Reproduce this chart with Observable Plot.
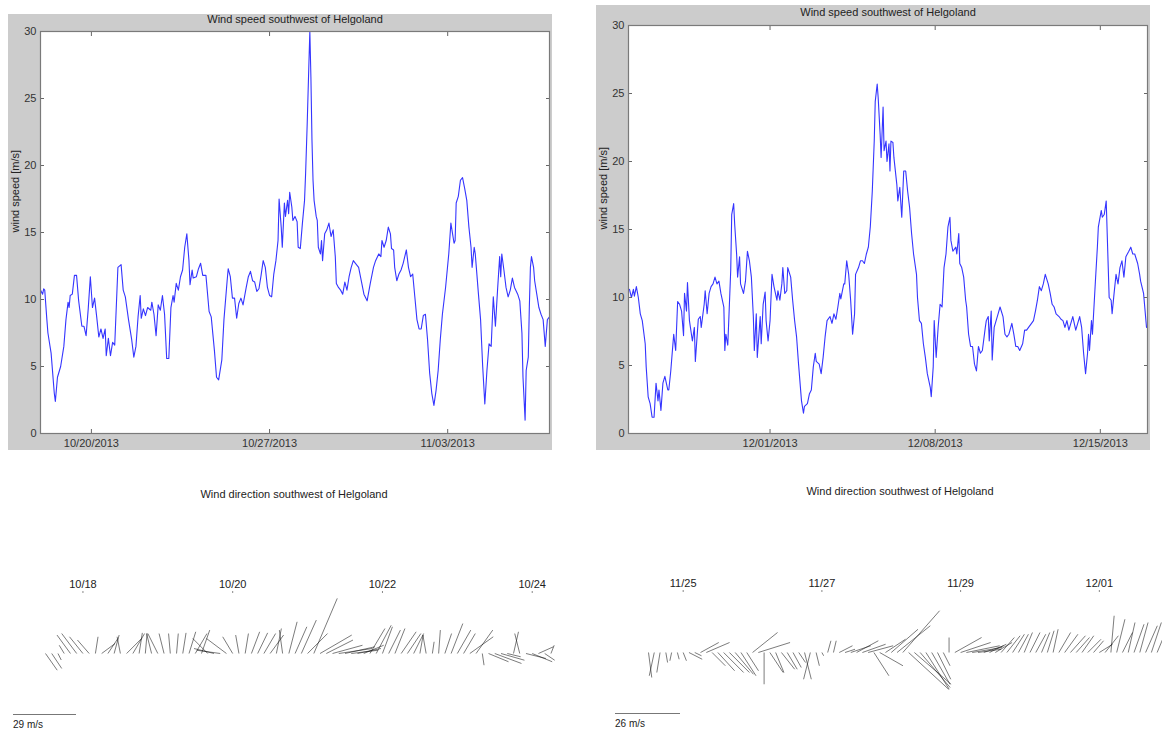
<!DOCTYPE html>
<html><head><meta charset="utf-8">
<script src="https://cdn.jsdelivr.net/npm/d3@7"></script>
<script src="https://cdn.jsdelivr.net/npm/@observablehq/plot@0.6"></script>
<style>
html,body{margin:0;padding:0;background:#fff;}
body{width:1162px;height:730px;overflow:hidden;position:relative;font-family:"Liberation Sans",Arial,sans-serif;}
.panel{position:absolute;}
.ttl{position:absolute;font-size:11px;color:#222;white-space:nowrap;transform:translateX(-50%);line-height:13px;}
.bar{position:absolute;border-top:1px solid #777;height:0;}
.barlbl{position:absolute;font-size:10px;color:#222;line-height:12px;}
</style></head><body>
<script>
// ---------- wind speed, Oct/Nov 2013 (hours since 2013-10-18 00:00 UTC, m/s) ----------
const octStart = "2013-10-18T00:00Z";
const octEnd = "2013-11-07T00:00Z";
const octReadings = [
[0,10.7],[2,10.4],[3,10.8],[4,10.7],[6,8.5],[7,7.5],[10,6.0],[13,3.0],[14,2.4],[16,4.2],[19,5.0],[22,6.5],
[24,8.5],[26,9.8],[27,9.4],[28,10.3],[30,10.4],[32,11.8],[34,11.8],[36,9.9],[39,8.0],[41,8.0],[43,7.3],[45,9.3],
[47,11.7],[49,9.4],[51,10.1],[53,8.7],[55,7.2],[57,7.8],[59,7.1],[61,7.8],[62,5.8],[64,7.1],[66,5.8],[68,6.8],
[70,6.6],[73,12.4],[76,12.6],[78,10.7],[80,10.2],[83,8.5],[86,7.0],[88,5.7],[90,6.5],[92,8.7],[94,10.3],[95,8.6],
[97,9.3],[99,8.8],[101,9.4],[104,9.2],[105,9.8],[107,8.9],[109,7.3],[111,9.6],[113,9.2],[115,10.3],[117,8.9],[119,5.6],
[121,5.6],[123,9.4],[125,10.3],[126,9.8],[128,11.2],[130,10.7],[132,11.7],[134,12.2],[136,13.9],[138,14.9],[140,12.9],[141,11.1],
[143,12.2],[144,11.6],[147,11.7],[149,12.3],[151,12.7],[153,11.8],[156,11.8],[159,9.1],[161,8.7],[164,6.2],[166,4.2],[168,4.0],
[171,5.5],[173,8.5],[176,11.4],[177,12.3],[179,11.7],[181,10.1],[183,10.1],[185,8.6],[187,9.7],[189,10.1],[191,9.6],[194,10.9],
[196,11.7],[198,12.1],[200,11.4],[202,11.3],[204,10.6],[206,10.8],[208,11.8],[210,12.9],[212,12.4],[214,10.9],[216,10.3],[218,10.2],
[220,11.9],[222,12.9],[224,14.4],[225,17.5],[227,15.4],[228,13.9],[230,17.2],[231,16.2],[233,17.4],[234,16.4],[235,18.0],[237,16.9],
[238,15.9],[240,16.2],[242,15.8],[243,13.9],[245,13.8],[247,15.7],[249,17.4],[250,19.4],[251.5,23.1],[253,27.3],[254,30.0],[255,26.6],
[256,21.9],[257,18.9],[258,17.4],[260,16.2],[261,15.9],[262,13.9],[264,13.4],[265,14.4],[266,12.9],[268,14.9],[270,15.2],[272,15.7],
[274,14.7],[276,15.2],[278,13.2],[279,11.2],[281,10.9],[283,10.7],[285,10.4],[287,11.3],[289,10.7],[291,11.7],[293,12.4],[295,12.9],
[297,12.7],[300,12.4],[303,11.2],[305,10.4],[308,9.9],[311,11.2],[314,12.4],[316,12.9],[319,13.4],[321,13.2],[322,14.4],[324,13.9],
[326,14.4],[328,15.4],[330,14.9],[331,13.8],[333,13.7],[334,12.4],[336,11.4],[338,11.9],[340,12.2],[342,12.7],[345,13.7],[347,12.4],
[349,11.7],[351,11.9],[353,10.2],[355,8.5],[357,7.8],[359,7.8],[361,8.8],[363,8.9],[365,7.0],[367,4.5],[369,3.0],[371,2.1],
[373,3.2],[375,4.7],[377,7.0],[379,8.9],[382,10.9],[385,13.4],[387,15.7],[388,15.2],[390,14.2],[391,14.4],[392,17.2],[394,17.7],
[396,18.9],[398,19.1],[400,18.3],[402,17.4],[404,15.4],[406,13.9],[407,12.4],[409,13.9],[410,13.4],[411,12.4],[413,10.4],[415,8.5],
[417,5.0],[419,2.2],[421,4.7],[423,6.7],[425,6.5],[427,10.2],[429,8.0],[431,10.7],[433,13.2],[434,11.7],[435,13.4],[437,12.2],
[439,10.9],[441,10.2],[443,10.7],[445,11.6],[447,10.9],[450,10.4],[452,9.9],[454,7.5],[455,4.2],[457,1.0],[458,4.7],[460,5.7],
[461,9.5],[462,12.4],[463,13.2],[465,12.4],[466,11.4],[468,10.4],[470,9.4],[472,8.9],[474,8.5],[476,6.5],[478,8.5],[480,8.7]
];
const octTicks = ["2013-10-20","2013-10-27","2013-11-03"];

// ---------- wind speed, Nov/Dec 2013 (hours since 2013-11-25 00:00 UTC, m/s) ----------
const novStart = "2013-11-25T00:00Z";
const novEnd = "2013-12-17T00:00Z";
const novReadings = [
[1,10.6],[3,10.0],[5,10.6],[6,10.1],[8,10.8],[10,10.0],[12,8.8],[14,8.3],[17,6.6],[18,4.9],[20,2.7],[22,2.2],
[24,1.2],[26,1.2],[28,3.7],[30,2.4],[31,3.2],[33,1.7],[35,3.7],[37,4.2],[40,3.2],[41,3.2],[43,4.6],[46,7.3],
[48,6.1],[50,9.7],[52,9.5],[54,9.0],[56,7.2],[57,10.3],[59,9.0],[60,11.1],[62,8.3],[65,6.8],[67,7.8],[68,5.3],
[71,8.4],[73,8.6],[74,7.8],[77,9.5],[78,10.5],[80,8.8],[82,10.3],[84,10.8],[86,11.0],[88,11.5],[90,11.0],[92,11.2],
[94,10.3],[97,9.3],[98,6.1],[99,7.3],[101,6.5],[102,8.3],[104,12.0],[105,16.1],[107,16.9],[108,15.4],[110,13.2],[111,11.5],
[113,13.0],[114,11.0],[117,10.3],[119,11.2],[121,13.4],[123,12.7],[125,11.5],[127,8.6],[128,6.1],[130,8.8],[131,5.6],[134,8.6],
[135,6.6],[137,9.5],[139,10.4],[140,8.3],[142,6.8],[144,8.3],[146,11.7],[148,10.8],[151,9.8],[152,10.5],[154,9.8],[156,11.0],
[157,12.2],[159,10.3],[161,10.5],[162,12.2],[165,11.5],[167,9.8],[169,8.3],[171,7.1],[173,5.1],[176,2.4],[178,1.5],[179,2.0],
[182,2.2],[184,2.9],[186,3.2],[188,4.9],[190,5.9],[191,5.3],[194,5.1],[196,4.4],[198,5.6],[200,7.1],[202,8.3],[205,8.6],
[207,8.1],[209,8.8],[211,8.4],[213,9.3],[215,10.3],[216,9.9],[219,11.0],[220,11.0],[222,12.7],[224,11.7],[226,9.8],[228,7.3],
[230,8.8],[231,11.7],[234,12.2],[236,12.7],[238,12.7],[240,12.5],[242,13.2],[244,13.7],[246,15.2],[248,17.8],[250,21.5],[251,24.4],
[253,25.7],[254,24.7],[256,22.0],[257,20.3],[259,24.0],[260,20.8],[262,21.5],[263,20.0],[265,21.3],[266,19.3],[267,21.5],[269,21.4],
[270,20.3],[273,18.3],[274,17.1],[276,18.1],[278,15.9],[280,19.3],[282,19.3],[284,17.8],[286,16.6],[288,14.7],[290,13.2],[293,11.7],
[294,10.0],[296,8.3],[298,8.1],[300,6.6],[302,5.6],[304,4.4],[307,3.4],[308,2.7],[310,4.9],[311,8.3],[313,5.6],[315,7.8],
[317,9.5],[319,9.3],[321,12.2],[323,13.2],[325,15.2],[327,15.9],[328,14.2],[330,13.4],[333,13.7],[334,13.2],[336,14.7],[337,12.5],
[339,12.2],[341,11.5],[343,9.8],[344,9.3],[346,7.3],[348,6.4],[350,6.4],[352,5.1],[354,4.6],[356,6.4],[358,5.9],[360,6.1],
[363,7.8],[364,8.3],[366,8.6],[367,6.8],[369,9.0],[370,5.4],[372,7.8],[374,8.3],[376,8.8],[378,9.3],[381,8.6],[383,7.3],
[385,7.1],[387,7.3],[390,8.1],[392,7.3],[394,6.4],[396,6.4],[398,6.1],[401,6.6],[403,7.6],[405,7.6],[407,7.8],[410,8.1],
[412,8.3],[414,9.0],[416,9.8],[418,10.8],[420,10.5],[422,11.0],[424,11.7],[427,11.0],[429,10.3],[431,9.5],[433,9.3],[435,8.8],
[438,8.6],[440,8.4],[442,8.3],[444,7.8],[446,8.3],[448,7.6],[450,8.1],[452,8.6],[455,7.6],[457,8.1],[459,8.6],[461,7.8],
[463,5.9],[465,4.4],[467,5.9],[468,7.3],[469,6.1],[471,8.3],[472,7.3],[475,11.2],[477,13.7],[478,15.2],[481,16.4],[482,15.9],
[484,16.1],[486,17.1],[487,14.7],[489,10.0],[491,9.8],[492,8.8],[494,10.3],[496,11.7],[498,11.0],[500,12.2],[502,12.7],[504,11.5],
[506,13.0],[509,13.4],[511,13.7],[513,13.2],[515,13.2],[518,12.5],[520,11.7],[521,11.2],[524,10.3],[527,7.8]
];
const novTicks = ["2013-12-01","2013-12-08","2013-12-15"];
const speedTicks = [0, 5, 10, 15, 20, 25, 30];

// ---------- wind vectors (2-hourly, east/north components in m/s) ----------
const stickOctStart = "2013-10-17T12:00Z";
const stickOctU = [5.4,4.6,1.5,-2.3,-6.2,-6.9,-6.2,-5.4,1.2,6.2,4.6,2.3,-1.5,6.9,5.4,1.5,0.8,-2.3,-4.6,-2.3,
 -0.8,0.8,1.5,3.1,5.4,3.8,-6.9,-9.2,-10.8,-9.2,-4.6,-1.5,1.5,3.8,4.6,5.4,6.2,2.3,-1.5,3.8,
 5.4,6.9,9.2,10.8,14.6,12.3,13.8,15.4,13.8,12.3,10.8,9.2,6.9,6.9,4.6,5.4,4.6,6.9,6.2,4.6,
 1.5,-1.5,0.8,0.8,3.1,5.4,6.2,5.4,10.8,7.7,0.8,9.2,12.3,10.8,6.2,2.3,-2.3,9.2,9.2,6.9,4.6,1.5];
const stickOctV = [-7.7,-6.9,-3.0,3.8,8.5,9.2,7.7,6.2,7.7,4.6,6.9,8.5,7.7,6.9,9.2,9.5,9.2,9.2,9.2,9.2,
 9.2,9.2,9.5,10.0,9.2,10.8,6.9,2.3,1.5,6.9,7.7,8.5,9.2,10.0,9.5,9.2,8.5,11.5,10.8,14.6,
 12.3,15.4,9.2,25.4,8.5,6.2,3.8,2.3,3.1,1.5,2.3,3.8,11.5,13.0,12.3,10.8,11.5,10.0,9.2,9.2,
 8.5,8.5,5.4,10.8,9.2,13.8,10.8,9.2,7.7,10.8,-5.4,-3.8,-4.6,-3.1,-1.5,10.0,9.2,-2.3,-3.8,3.1,-3.1,3.8];
const stickOctTicks = ["2013-10-18","2013-10-20","2013-10-22","2013-10-24"];
const stickOctRef = 29;

const stickNovStart = "2013-11-24T12:00Z";
const stickNovU = [1.3,-2.0,-1.3,0.7,-0.7,0.7,1.3,5.3,2.7,7.3,9.3,5.3,6.7,8.0,8.0,7.3,6.0,4.7,10.0,12.7,
 0.0,5.3,3.3,5.3,4.0,3.3,2.7,2.7,-2.7,1.3,0.7,1.3,1.1,5.3,4.0,8.0,8.7,9.3,10.0,6.0,
 9.3,8.0,10.7,13.3,14.7,16.0,14.7,12.0,9.3,7.3,5.3,2.7,0.0,10.7,12.0,13.3,12.0,9.3,8.0,6.7,
 6.7,5.3,5.3,4.7,4.0,3.3,4.0,4.0,3.3,2.7,2.0,4.7,5.3,6.0,5.3,4.7,5.3,4.0,5.3,5.3,
 1.3,3.3,4.0,2.7,4.0,3.3,4.7,4.0,4.7,4.0];
const stickNovV = [-10.0,-9.3,-8.0,-4.0,-3.3,-2.7,-3.3,-2.7,-1.3,4.0,4.0,-5.3,-7.3,-8.0,-8.0,-8.7,-9.3,-7.3,8.0,4.0,
 -12.7,-8.0,-8.0,-6.7,-6.7,-6.0,-4.0,-10.7,-10.7,-5.3,-1.3,4.7,4.7,2.7,1.3,2.7,4.7,3.3,2.7,-9.3,
 -5.3,5.3,9.3,10.7,16.7,-14.7,-12.7,-14.0,-14.7,-12.7,-10.7,-5.3,6.0,6.0,4.0,2.7,2.0,1.3,2.7,3.3,
 4.0,6.0,6.7,7.3,7.3,8.0,8.0,7.3,8.0,8.7,9.3,8.0,7.3,6.7,6.0,6.7,5.3,4.7,3.3,6.7,
 14.7,13.3,8.0,12.0,11.3,12.0,10.7,12.0,11.3,10.7];
const stickNovTicks = ["2013-11-25","2013-11-27","2013-11-29","2013-12-01"];
const stickNovRef = 26;

const TITLE_SPEED = "Wind speed southwest of Helgoland";
const TITLE_DIR = "Wind direction southwest of Helgoland";
const FONT = "'Liberation Sans', Arial, sans-serif";

function place(node, left, top) {
  const d = document.createElement("div");
  d.className = "panel";
  d.style.left = left + "px"; d.style.top = top + "px";
  d.appendChild(node);
  document.body.appendChild(d);
}
function html(cls, text, left, top, extra) {
  const d = document.createElement("div");
  d.className = cls; d.textContent = text;
  d.style.left = left + "px"; d.style.top = top + "px";
  if (extra) Object.assign(d.style, extra);
  document.body.appendChild(d);
}

function speedPanel({left, top, width, height, marginTop, start, end, readings, ticks, titleDy}) {
  const t0 = new Date(start).getTime();
  const data = readings.map(([h, v]) => ({t: new Date(t0 + h * 3600e3), v}));
  const tickDates = ticks.map(s => new Date(s + "T00:00Z"));
  const blank = () => "";
  const svg = Plot.plot({
    width, height, marginLeft: 32, marginRight: 3, marginTop, marginBottom: 17,
    style: {background: "#cccccc", fontFamily: FONT, fontSize: "11px", color: "#333", overflow: "visible"},
    x: {type: "utc", domain: [new Date(start), new Date(end)]},
    y: {domain: [0, 30]},
    marks: [
      Plot.frame({fill: "white", stroke: "none"}),
      Plot.line(data, {x: "t", y: "v", stroke: "#3535ff", strokeWidth: 1.1}),
      Plot.axisY({ticks: speedTicks, tickSize: 0, tickPadding: 4, label: null, fill: "#333"}),
      Plot.axisY({ticks: speedTicks, anchor: "left", tickSize: -4, tickFormat: blank, label: null, stroke: "#666"}),
      Plot.axisY({ticks: speedTicks, anchor: "right", tickSize: -4, tickFormat: blank, label: null, stroke: "#666"}),
      Plot.axisX({ticks: tickDates, tickSize: 0, tickPadding: 6, tickFormat: d3.utcFormat("%m/%d/%Y"), label: null, fill: "#333"}),
      Plot.axisX({ticks: tickDates, anchor: "bottom", tickSize: -4, tickFormat: blank, label: null, stroke: "#666"}),
      Plot.axisX({ticks: tickDates, anchor: "top", tickSize: -4, tickFormat: blank, label: null, stroke: "#666"}),
      Plot.frame({stroke: "#7a7a7a", strokeWidth: 1.2}),
      Plot.text([TITLE_SPEED], {text: d => d, frameAnchor: "top", dy: titleDy, lineAnchor: "middle", fill: "#222", fontSize: 11}),
      Plot.text(["wind speed [m/s]"], {text: d => d, frameAnchor: "left", dx: -25, rotate: -90, lineAnchor: "middle", fill: "#222", fontSize: 11})
    ]
  });
  place(svg, left, top);
}

function stickPanel({left, top, width, height, x0, pxPerHour, hoursSpan, pxPerUnit, baseY, axisY, start, u, v, ticks, ref, barLeft, barTop, title, titleX, titleY}) {
  const t0 = new Date(start).getTime();
  const hoursPerUnit = pxPerUnit / pxPerHour; // keeps sticks isotropic
  const sticks = u.map((uu, i) => ({
    t: new Date(t0 + i * 2 * 3600e3),
    t2: new Date(t0 + (i * 2 + uu * hoursPerUnit) * 3600e3),
    y0: 0,
    v: v[i]
  }));
  const tickDates = ticks.map(s => new Date(s + "T00:00Z"));
  const svg = Plot.plot({
    width, height,
    marginLeft: x0, marginRight: width - (x0 + pxPerHour * hoursSpan),
    marginTop: axisY, marginBottom: 0,
    style: {background: "transparent", fontFamily: FONT, fontSize: "11px", color: "#222", overflow: "visible"},
    x: {type: "utc", domain: [new Date(t0), new Date(t0 + hoursSpan * 3600e3)]},
    y: {domain: [-(height - baseY) / pxPerUnit, (baseY - axisY) / pxPerUnit], axis: null},
    marks: [
      Plot.axisX({anchor: "top", ticks: tickDates, tickSize: 2, tickPadding: 3, tickFormat: d3.utcFormat("%m/%d"), label: null, stroke: "#888", fill: "#222"}),
      Plot.link(sticks, {x1: "t", y1: "y0", x2: "t2", y2: "v", stroke: "#111", strokeWidth: 0.65, strokeOpacity: 0.85})
    ]
  });
  place(svg, left, top);
  html("ttl", title, titleX, titleY);
  html("bar", "", barLeft, barTop, {width: Math.round(ref * pxPerUnit) + "px"});
  html("barlbl", ref + " m/s", barLeft, barTop + 5);
}

speedPanel({left: 8, top: 14, width: 544, height: 436, marginTop: 17, start: octStart, end: octEnd, readings: octReadings, ticks: octTicks, titleDy: -12});
speedPanel({left: 596, top: 5, width: 554, height: 445, marginTop: 20, start: novStart, end: novEnd, readings: novReadings, ticks: novTicks, titleDy: -13});

stickPanel({left: 0, top: 470, width: 580, height: 260, x0: 45, pxPerHour: 3.12, hoursSpan: 168, pxPerUnit: 2.17,
  baseY: 183, axisY: 122, start: stickOctStart, u: stickOctU, v: stickOctV, ticks: stickOctTicks, ref: stickOctRef,
  barLeft: 13, barTop: 714, title: TITLE_DIR, titleX: 294, titleY: 488});
stickPanel({left: 590, top: 470, width: 572, height: 260, x0: 58, pxPerHour: 2.89, hoursSpan: 177, pxPerUnit: 2.5,
  baseY: 182, axisY: 121, start: stickNovStart, u: stickNovU, v: stickNovV, ticks: stickNovTicks, ref: stickNovRef,
  barLeft: 615, barTop: 713, title: TITLE_DIR, titleX: 900, titleY: 485});
</script>
</body></html>
